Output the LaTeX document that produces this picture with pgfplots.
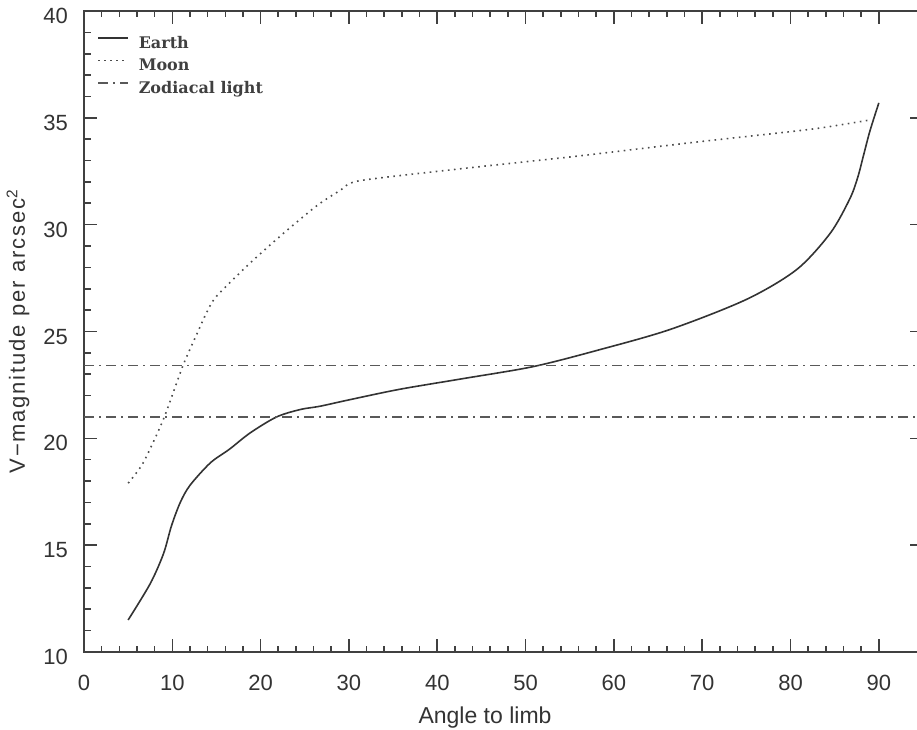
\documentclass[border=0pt]{standalone}
\usepackage{fontspec}
\setmainfont{Liberation Sans}
\newfontfamily\legfont{DejaVu Serif}
\newfontfamily\ylabfont{Liberation Sans}[LetterSpace=8]
\usepackage{pgfplots}
\pgfplotsset{compat=1.18}

\begin{document}
\begin{tikzpicture}
\begin{axis}[
    scale only axis, width=839pt, height=641pt,
    xmin=0, xmax=95, ymin=10, ymax=40,
    xtick={0,10,...,90}, minor x tick num=4,
    ytick={10,15,...,40}, minor y tick num=4,
    tick align=inside,
    major tick length=13pt, minor tick length=6.5pt,
    axis line style={line width=1.8pt, black!75},
    every tick/.style={line width=1.6pt, black!75},
    /pgf/number format/assume math mode=true,
    tick label style={font=\fontsize{22}{26}\selectfont, text=black!80},
    xticklabel style={anchor=base, yshift=-38pt},
    yticklabel style={anchor=east, inner sep=0pt, xshift=-16pt, yshift=-5pt},
    xlabel={Angle to limb},
    every axis x label/.style={at={(axis description cs:0.478,0)}, anchor=base, yshift=-71pt,
        font=\fontsize{23}{27}\selectfont, text=black!80},
    ylabel={\ylabfont V−magnitude\hspace{0.4em}per\hspace{0.4em}arcsec\textsuperscript{2}},
    every axis y label/.style={at={([xshift=-66pt]axis description cs:0,0.5)}, rotate=90, anchor=center,
        font=\fontsize{22}{26}\selectfont, text=black!80},
    legend style={at={(axis description cs:0,1)}, anchor=north west, xshift=13pt, yshift=-25pt,
        draw=none, fill=none, inner sep=0pt, row sep=9pt, column sep=10pt,
        font=\legfont\bfseries\fontsize{16}{18}\selectfont, text=black!75,
        nodes={inner sep=0pt}},
    legend cell align=left,
    legend image code/.code={\draw[#1] (0pt,5pt) -- (30pt,5pt);},
]
\coordinate (sw) at (rel axis cs:0,0);
\coordinate (ne) at (rel axis cs:1,1);

% Earth
\addplot[black!80, line width=1.6pt, smooth, tension=0.5] coordinates {
    (5,11.5) (7.5,13.2) (9.0,14.6) (9.9,15.9) (10.9,17.0) (12.0,17.8)
    (14.3,18.85) (16.5,19.5) (18.8,20.25) (21.8,21.0) (24.5,21.35) (26.7,21.5)
    (30,21.8) (35.8,22.3) (43,22.8) (50.9,23.36) (58.4,24.15) (66.4,25.1)
    (75,26.5) (80.7,27.9) (84.5,29.6) (86.7,31.2) (87.6,32.2) (88.3,33.3)
    (89.0,34.4) (90,35.7)
};
\addlegendentry{Earth}

% Moon
\addplot[black!70, line width=1.6pt, dash pattern=on 1.6pt off 4.5pt, smooth, tension=0.4] coordinates {
    (5,17.9) (6.7,18.85) (9.0,20.9) (11.2,23.4) (12.8,24.9) (13.9,25.9) (15,26.65)
    (18.8,28.2) (22.6,29.6) (26.4,30.9) (29,31.6) (31.1,32.05) (42.3,32.6)
    (55.7,33.2) (69,33.85) (82.4,34.47) (89,34.9)
};
\addlegendentry{Moon}

% Zodiacal light
\addplot[black!65, line width=1.6pt, dash pattern=on 10pt off 5pt on 2pt off 5pt] coordinates {
    (0,23.4) (95,23.4)
};
\addlegendentry{Zodiacal light}
\addplot[black!65, line width=1.6pt, dash pattern=on 10pt off 5pt on 2pt off 5pt, forget plot] coordinates {
    (0,21.0) (95,21.0)
};
\end{axis}
\pgfresetboundingbox
\path ([shift={(-84pt,-77pt)}]sw) rectangle ([shift={(-6pt,11pt)}]ne);
\end{tikzpicture}
\end{document}
